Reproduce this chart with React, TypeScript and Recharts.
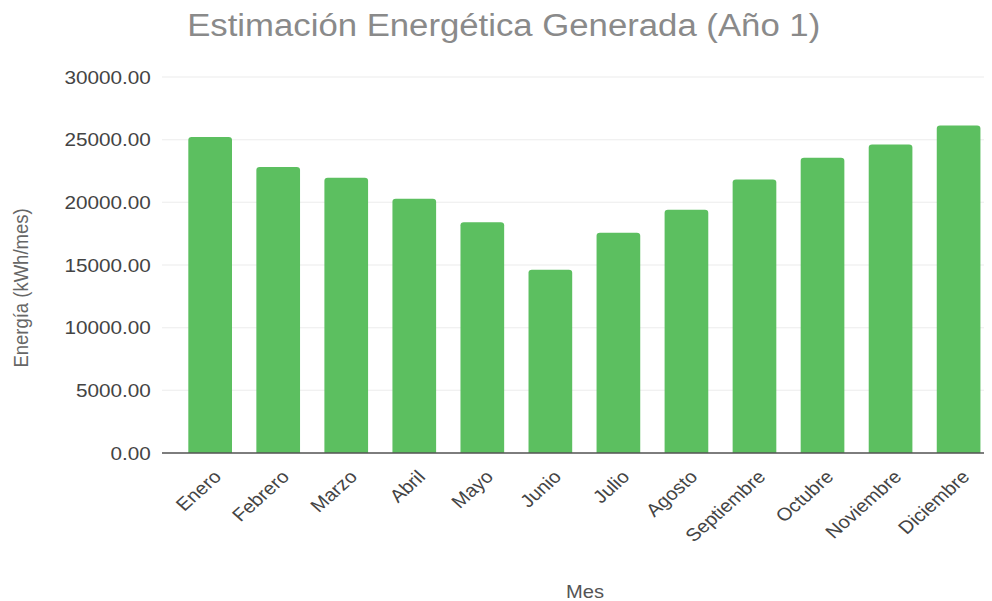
import React from 'react';
import { BarChart, Bar, XAxis, YAxis, CartesianGrid } from 'recharts';

const months = ['Enero', 'Febrero', 'Marzo', 'Abril', 'Mayo', 'Junio', 'Julio', 'Agosto', 'Septiembre', 'Octubre', 'Noviembre', 'Diciembre'];
const energy = [25210, 22810, 21960, 20290, 18420, 14620, 17570, 19410, 21830, 23560, 24620, 26140];
const yTicks = [0, 5000, 10000, 15000, 20000, 25000, 30000];

const data = months.map((m, i) => ({ mes: m, energia: energy[i] }));

const FONT = '"Liberation Sans", Arial, Helvetica, sans-serif';
const STRETCH = 1.12;

const XTick = (props: any) => {
  const { x, y, payload } = props;
  return (
    <g transform={`translate(${x + 11},${y + 17})`}>
      <text x={0} y={0} textAnchor="end" transform="rotate(-45)" fill="#444" fontSize={18} fontFamily={FONT}>
        {payload.value}
      </text>
    </g>
  );
};

const YLabel = (props: any) => {
  const vb = props.viewBox || {};
  const cx = vb.x + 11.5;
  const cy = vb.y + vb.height / 2 + 23;
  return (
    <text x={cx} y={cy} transform={`rotate(-90,${cx},${cy})`} textAnchor="middle" dominantBaseline="central" fill="#666" fontSize={18.5} fontFamily={FONT}>
      Energía (kWh/mes)
    </text>
  );
};

const XLabel = (props: any) => {
  const vb = props.viewBox || {};
  return (
    <text x={vb.x + vb.width / 2 + 7} y={vb.y + vb.height + 3} textAnchor="middle" fill="#555" fontSize={18} fontFamily={FONT}>
      Mes
    </text>
  );
};

export default function App() {
  return (
    <div style={{ width: 984, height: 593, overflow: 'hidden', background: '#fff' }}>
      <div style={{ position: 'relative', width: 879, height: 593, transform: `scaleX(${STRETCH})`, transformOrigin: 'left top', fontFamily: FONT }}>
        <div style={{ position: 'absolute', left: 160, top: 0, fontSize: 31, color: '#8a8a8a', fontFamily: FONT, whiteSpace: 'nowrap' }}>
          Estimación Energética Generada (Año 1)
        </div>
        <BarChart width={879} height={593} data={data} margin={{ top: 69, right: 0, bottom: 6, left: 0 }} barSize={39}>
          <CartesianGrid vertical={false} stroke="#ececec" />
          <XAxis
            dataKey="mes"
            interval={0}
            height={142}
            tick={<XTick />}
            tickLine={false}
            axisLine={{ stroke: '#555', strokeWidth: 1.5 }}
            padding={{ left: 12.5, right: 0 }}
            label={<XLabel />}
          />
          <YAxis
            width={137.5}
            domain={[0, 30000]}
            ticks={yTicks}
            tickFormatter={(v: number) => v.toFixed(2)}
            tick={{ fill: '#444', fontSize: 18.5, fontFamily: FONT }}
            tickLine={false}
            axisLine={false}
            tickMargin={4}
            label={<YLabel />}
          />
          <Bar dataKey="energia" fill="#5cbf60" radius={[3, 3, 0, 0]} isAnimationActive={false} />
        </BarChart>
      </div>
    </div>
  );
}
